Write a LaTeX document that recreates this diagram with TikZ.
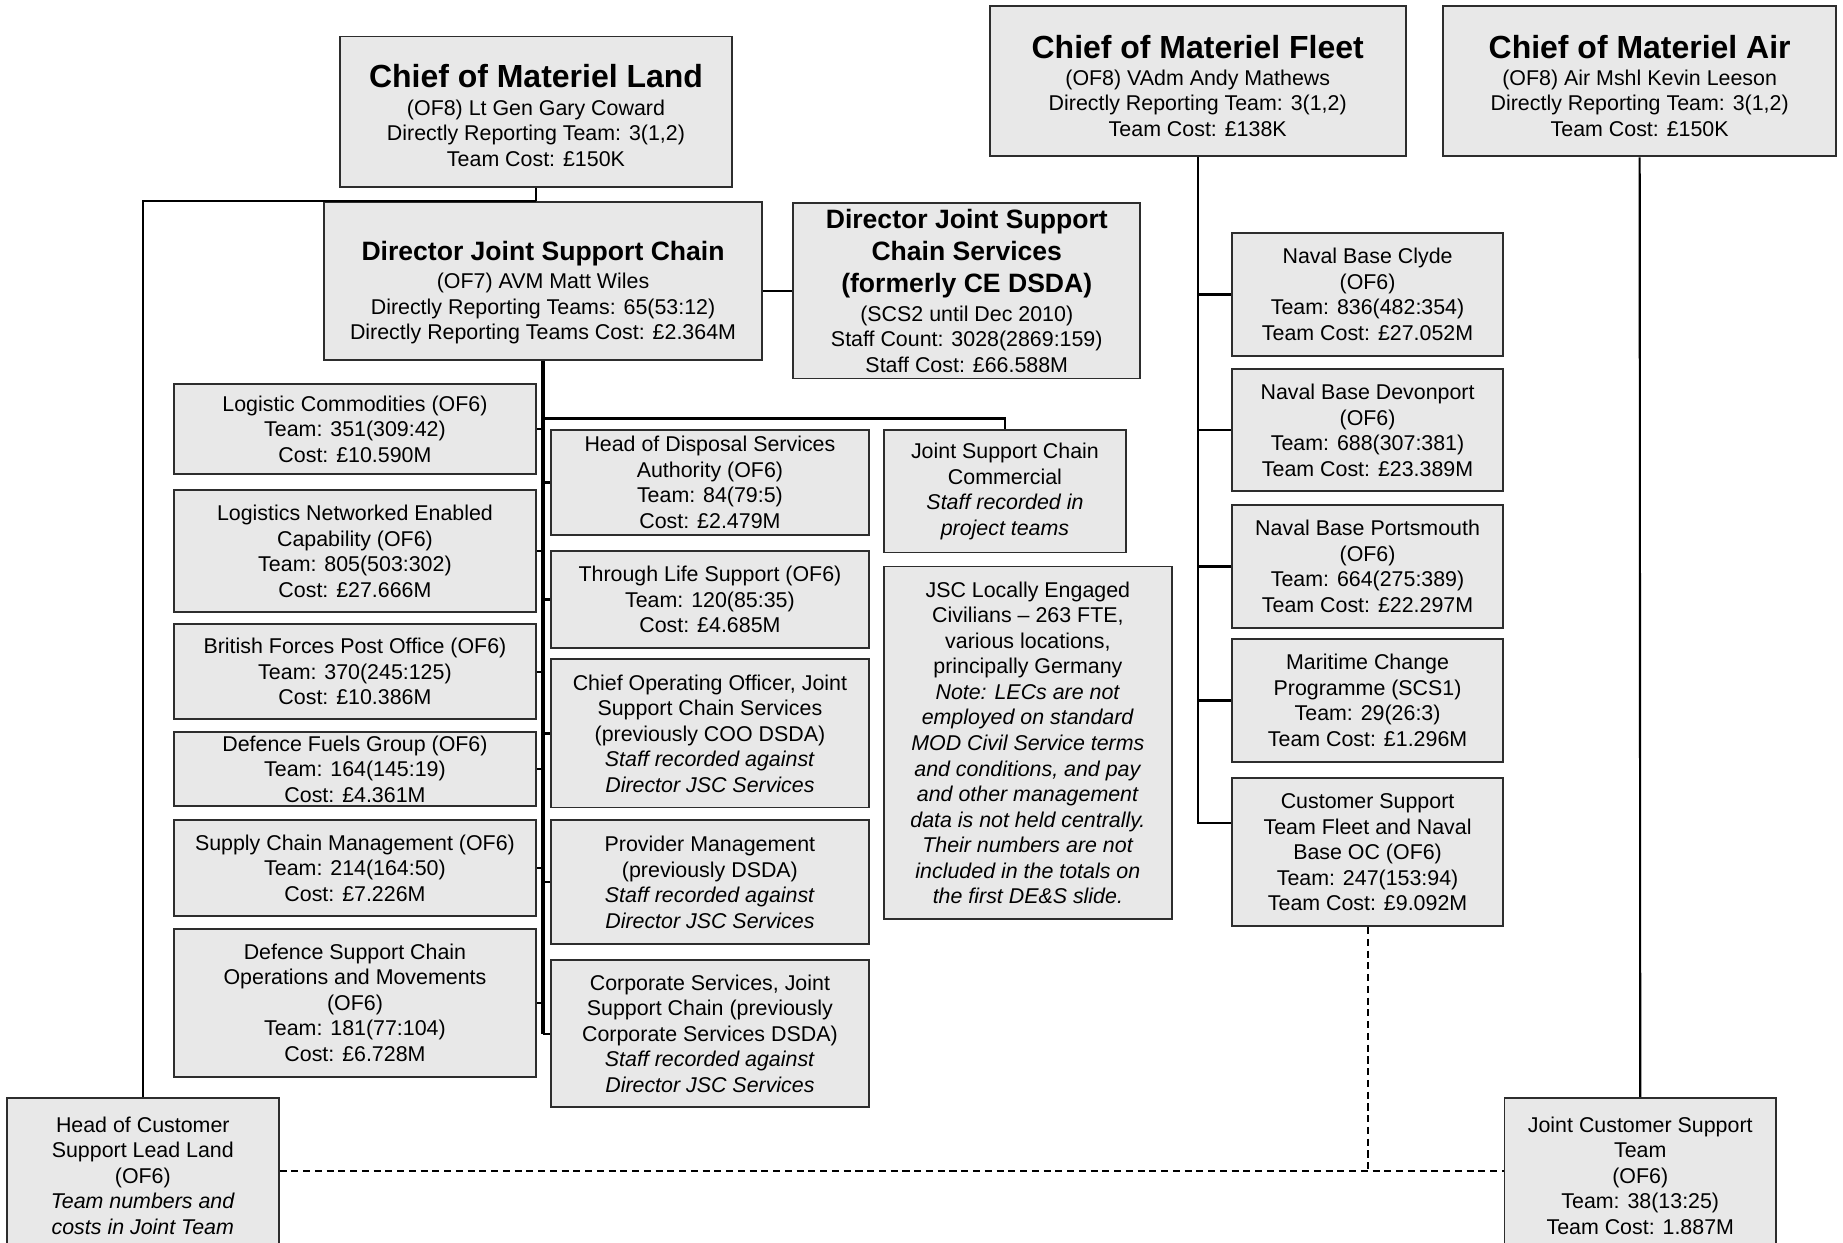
\documentclass[tikz,border=0pt]{standalone}
\usepackage{fontspec}
\setmainfont{Liberation Sans}
\usetikzlibrary{calc}
\definecolor{boxfill}{RGB}{232,232,232}
\definecolor{boxline}{RGB}{45,45,45}
\newcommand{\bfont}{\fontsize{9.1}{10.85}\selectfont}
\newcommand{\ttlA}{\fontsize{13.6}{15}\selectfont\bfseries}
\newcommand{\ttlB}{\fontsize{11.3}{13.5}\selectfont\bfseries}
\newcommand{\mkbox}[6]{\node[orgbox, minimum width={(#4-#2)*0.5pt}, minimum height={(#5-#3)*0.5pt}] (#1) at ({(#2+#4)/2},{(#3+#5)/2}) {#6};}
\begin{document}
\begin{tikzpicture}[x=0.5pt,y=-0.5pt,
  orgbox/.style={draw=boxline, fill=boxfill, line width=0.8pt, inner sep=0pt, align=center, font=\bfont},
  link/.style={line width=0.9pt, black},
  trunkline/.style={line width=1.5pt, black},
  dashlink/.style={line width=0.9pt, black, dash pattern=on 3pt off 2pt}]
\useasboundingbox (0,0) rectangle (1568,1057);
\clip (0,0) rectangle (1568,1057);
% top level
\mkbox{CML}{289}{31}{623}{159}{{\ttlA\rule{0pt}{13pt}Chief of Materiel Land}\\[0.8pt](OF8) Lt Gen Gary Coward\\Directly Reporting Team: 3(1,2)\\Team Cost: £150K}
\mkbox{CMF}{842}{5}{1196}{133}{{\ttlA\rule{0pt}{14pt}Chief of Materiel Fleet}\\[0.6pt](OF8) VAdm Andy Mathews\\Directly Reporting Team: 3(1,2)\\Team Cost: £138K}
\mkbox{CMA}{1228}{5}{1562}{133}{{\ttlA\rule{0pt}{14pt}Chief of Materiel Air}\\[0.6pt](OF8) Air Mshl Kevin Leeson\\Directly Reporting Team: 3(1,2)\\Team Cost: £150K}
% directors
\mkbox{DJSC}{276}{172}{648}{306}{{\ttlB\rule{0pt}{18pt}Director Joint Support Chain}\\[1.2pt](OF7) AVM Matt Wiles\\Directly Reporting Teams: 65(53:12)\\Directly Reporting Teams Cost: £2.364M}
\mkbox{DJSCS}{675}{173}{970}{322}{{\ttlB Director Joint Support}\\[2.7pt]{\ttlB Chain Services}\\[2.7pt]{\ttlB (formerly CE DSDA)}\\[1.6pt](SCS2 until Dec 2010)\\Staff Count: 3028(2869:159)\\Staff Cost: £66.588M}
% left column
\mkbox{LC}{148}{327}{456}{403}{Logistic Commodities (OF6)\\Team: 351(309:42)\\Cost: £10.590M}
\mkbox{LNEC}{148}{417}{456}{521}{Logistics Networked Enabled\\Capability (OF6)\\Team: 805(503:302)\\Cost: £27.666M}
\mkbox{BFPO}{148}{531}{456}{612}{British Forces Post Office (OF6)\\Team: 370(245:125)\\Cost: £10.386M}
\mkbox{DFG}{148}{623}{456}{686}{Defence Fuels Group (OF6)\\Team: 164(145:19)\\Cost: £4.361M}
\mkbox{SCM}{148}{698}{456}{779}{Supply Chain Management (OF6)\\Team: 214(164:50)\\Cost: £7.226M}
\mkbox{DSCOM}{148}{790}{456}{916}{Defence Support Chain\\Operations and Movements\\(OF6)\\Team: 181(77:104)\\Cost: £6.728M}
% middle column
\mkbox{HDSA}{469}{366}{739}{455}{Head of Disposal Services\\Authority (OF6)\\Team: 84(79:5)\\Cost: £2.479M}
\mkbox{TLS}{469}{469}{739}{551}{Through Life Support (OF6)\\Team: 120(85:35)\\Cost: £4.685M}
\mkbox{COO}{469}{561}{739}{687}{Chief Operating Officer, Joint\\Support Chain Services\\(previously COO DSDA)\\\textit{Staff recorded against}\\\textit{Director JSC Services}}
\mkbox{PM}{469}{698}{739}{803}{Provider Management\\(previously DSDA)\\\textit{Staff recorded against}\\\textit{Director JSC Services}}
\mkbox{CS}{469}{817}{739}{942}{Corporate Services, Joint\\Support Chain (previously\\Corporate Services DSDA)\\\textit{Staff recorded against}\\\textit{Director JSC Services}}
% third column
\mkbox{JSCC}{752}{366}{958}{470}{Joint Support Chain\\Commercial\\\textit{Staff recorded in}\\\textit{project teams}}
\mkbox{LEC}{752}{482}{997}{782}{JSC Locally Engaged\\Civilians – 263 FTE,\\various locations,\\principally Germany\\\textit{Note: LECs are not}\\\textit{employed on standard}\\\textit{MOD Civil Service terms}\\\textit{and conditions, and pay}\\\textit{and other management}\\\textit{data is not held centrally.}\\\textit{Their numbers are not}\\\textit{included in the totals on}\\\textit{the first DE\&S slide.}}
% fleet column
\mkbox{NBC}{1048}{198}{1279}{303}{Naval Base Clyde\\(OF6)\\Team: 836(482:354)\\Team Cost: £27.052M}
\mkbox{NBD}{1048}{314}{1279}{418}{Naval Base Devonport\\(OF6)\\Team: 688(307:381)\\Team Cost: £23.389M}
\mkbox{NBP}{1048}{430}{1279}{534}{Naval Base Portsmouth\\(OF6)\\Team: 664(275:389)\\Team Cost: £22.297M}
\mkbox{MCP}{1048}{544}{1279}{648}{Maritime Change\\Programme (SCS1)\\Team: 29(26:3)\\Team Cost: £1.296M}
\mkbox{CST}{1048}{662}{1279}{788}{Customer Support\\Team Fleet and Naval\\Base OC (OF6)\\Team: 247(153:94)\\Team Cost: £9.092M}
% bottom
\mkbox{HCSLL}{6}{934}{237}{1066}{Head of Customer\\Support Lead Land\\(OF6)\\\textit{Team numbers and}\\\textit{costs in Joint Team}}
\mkbox{JCST}{1280}{934}{1511}{1066}{Joint Customer Support\\Team\\(OF6)\\Team: 38(13:25)\\Team Cost: 1.887M}
% helper coordinates
\coordinate (jt) at (0,356);
\coordinate (dl) at (0,996);
% land connectors
\draw[link] (CML.south) -- (CML.south |- DJSC.north);
\draw[link] (CML.south |- DJSC.north) -| (HCSLL.north);
\draw[link] (DJSC.east |- DJSCS.west) -- (DJSCS.west);
\draw[trunkline] (DJSC.south) -- (DJSC.south |- CS.west);
\draw[link] (DJSC.south |- jt) -| (JSCC.north);
\foreach \b in {LC,LNEC,BFPO,DFG,SCM,DSCOM} {\draw[link] (\b.east) -- (\b.east -| DJSC.south);}
\foreach \b in {HDSA,TLS,COO,PM,CS} {\draw[link] (\b.west) -- (\b.west -| DJSC.south);}
% fleet connectors
\draw[link] (CMF.south) |- ([yshift=12.5pt]CST.west);
\foreach \b in {NBC,NBD,NBP,MCP} {\draw[link] (\b.west) -- (\b.west -| CMF.south);}
% air connector
\draw[link] (CMA.south) -- (JCST.north);
% dashed links
\draw[dashlink] (HCSLL.east |- dl) -- (JCST.west |- dl);
\draw[dashlink] (CST.south) -- (CST.south |- dl);
\end{tikzpicture}
\end{document}
